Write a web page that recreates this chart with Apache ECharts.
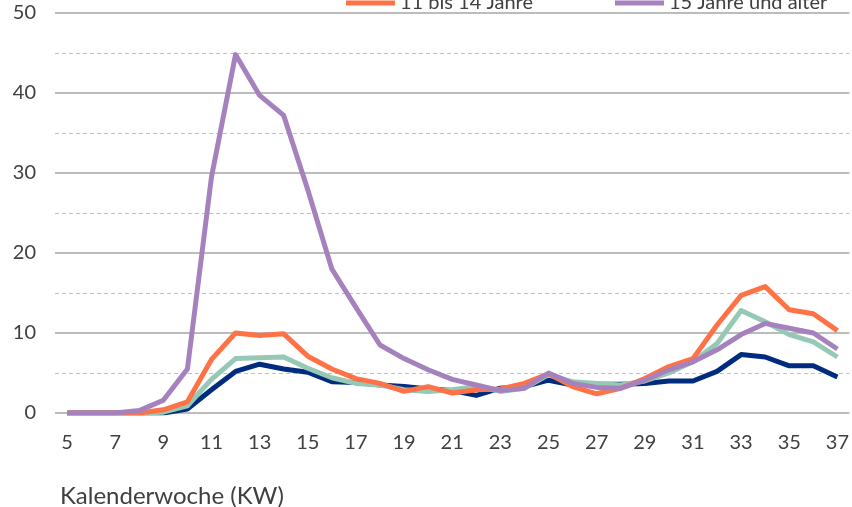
<!DOCTYPE html>
<html>
<head>
<meta charset="utf-8">
<script src="https://cdn.jsdelivr.net/npm/echarts@6/dist/echarts.min.js"></script>
<style>
  html, body { margin: 0; padding: 0; background: #fff; }
  #chart { width: 852px; height: 507px; }
</style>
</head>
<body>
<div id="chart"></div>
<script>
// Kalenderwochen 5 bis 37
var weeks = ['5','6','7','8','9','10','11','12','13','14','15','16','17','18','19','20','21',
             '22','23','24','25','26','27','28','29','30','31','32','33','34','35','36','37'];

var age0to4 = [0,0,0,0,0,0.5,2.9,5.2,6.1,5.5,5.1,3.9,3.8,3.5,3.3,3.0,2.8,
               2.2,3.1,3.3,4.1,3.5,3.6,3.6,3.7,4.0,4.0,5.2,7.3,7.0,5.9,5.9,4.5];
var age5to10 = [0,0,0,0,0.1,0.9,4.2,6.8,6.9,7.0,5.6,4.4,3.7,3.5,2.9,2.7,2.9,
                3.3,2.7,3.1,4.8,3.9,3.7,3.5,4.0,5.0,6.4,8.7,12.8,11.4,9.8,8.9,7.0];
var age11to14 = [0,0,0,0,0.4,1.4,6.7,10.0,9.7,9.9,7.1,5.5,4.3,3.7,2.7,3.3,2.5,
                 2.9,3.0,3.7,4.9,3.3,2.4,3.1,4.3,5.8,6.8,11.0,14.7,15.8,12.9,12.4,10.3];
var age15plus = [0,0,0,0.3,1.6,5.5,29.5,44.8,39.7,37.2,27.9,18.0,13.2,8.5,6.8,5.4,4.2,
                 3.5,2.8,3.1,5.0,3.7,3.2,3.1,4.1,5.4,6.4,7.9,9.8,11.2,10.6,10.0,8.0];

var font = 'Lato';
var textColor = '#404040';

var myChart = echarts.init(document.getElementById('chart'));

var option = {
    animation: false,
    title: {
        text: 'Kalenderwoche (KW)',
        left: 55,
        top: 479,
        textStyle: { fontFamily: font, fontSize: 24, fontWeight: 'normal', color: textColor }
    },
    legend: [
        {
            data: ['11 bis 14 Jahre'],
            left: 341, top: -12,
            icon: 'rect', itemWidth: 49, itemHeight: 5, itemGap: 10,
            textStyle: { fontFamily: font, fontSize: 20, color: textColor }
        },
        {
            data: ['15 Jahre und älter'],
            left: 610, top: -12,
            icon: 'rect', itemWidth: 49, itemHeight: 5, itemGap: 10,
            textStyle: { fontFamily: font, fontSize: 20, color: textColor }
        }
    ],
    grid: { left: 55, right: 2, top: 13, bottom: 94 },
    xAxis: {
        type: 'category',
        data: weeks,
        boundaryGap: true,
        axisLine: { show: false },
        axisTick: { show: false },
        axisLabel: { interval: 1, margin: 20, fontFamily: font, fontSize: 20, color: textColor }
    },
    yAxis: {
        type: 'value',
        min: 0, max: 50, interval: 10,
        axisLine: { show: false },
        axisTick: { show: false },
        minorTick: { show: false, splitNumber: 2 },
        axisLabel: { margin: 19, fontFamily: font, fontSize: 20, color: textColor },
        splitLine: { lineStyle: { color: '#a6a6a6', width: 1.5 } },
        minorSplitLine: { show: true, lineStyle: { color: '#bfbfbf', width: 1, type: [4, 3] } }
    },
    series: [
        {
            name: '0 bis 4 Jahre', type: 'line', data: age0to4, showSymbol: false,
            itemStyle: { color: '#002c7f' }, lineStyle: { width: 5, color: '#002c7f', join: 'round' }
        },
        {
            name: '5 bis 10 Jahre', type: 'line', data: age5to10, showSymbol: false,
            itemStyle: { color: '#95c9b6' }, lineStyle: { width: 5, color: '#95c9b6', join: 'round' }
        },
        {
            name: '11 bis 14 Jahre', type: 'line', data: age11to14, showSymbol: false,
            itemStyle: { color: '#ff7246' }, lineStyle: { width: 5, color: '#ff7246', join: 'round' }
        },
        {
            name: '15 Jahre und älter', type: 'line', data: age15plus, showSymbol: false,
            itemStyle: { color: '#a582be' }, lineStyle: { width: 5, color: '#a582be', join: 'round' }
        }
    ]
};
myChart.setOption(option);
</script>
</body>
</html>
